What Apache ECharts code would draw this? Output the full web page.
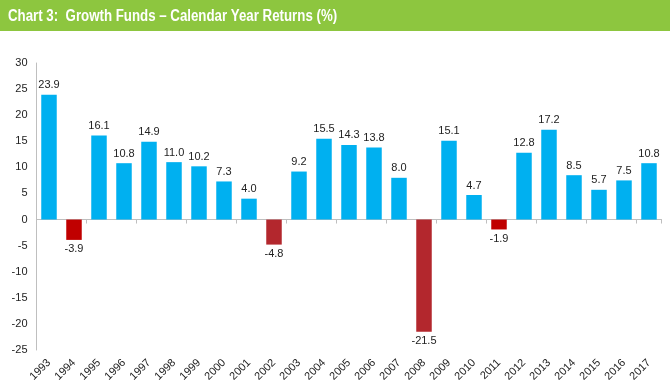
<!DOCTYPE html>
<html><head><meta charset="utf-8">
<script src="https://cdn.jsdelivr.net/npm/echarts@6/dist/echarts.min.js"></script>
<style>html,body{margin:0;padding:0;background:#fff}#c{width:670px;height:390px}</style>
</head><body><div id="c"></div>
<script>
const years = ['1993','1994','1995','1996','1997','1998','1999','2000','2001','2002','2003','2004','2005','2006','2007','2008','2009','2010','2011','2012','2013','2014','2015','2016','2017'];
const returns = [23.9,-3.9,16.1,10.8,14.9,11.0,10.2,7.3,4.0,-4.8,9.2,15.5,14.3,13.8,8.0,-21.5,15.1,4.7,-1.9,12.8,17.2,8.5,5.7,7.5,10.8];
const darkRedYears = ['2002','2008'];
const titleText = 'Chart 3:  Growth Funds \u2013 Calendar Year Returns (%)';

const chart = echarts.init(document.getElementById('c'), null, {renderer:'canvas'});
const grid = {left:36.5, right:8.5, top:63, bottom:40};
chart.setOption({
  animation:false,
  graphic:[
    {type:'rect', shape:{x:0,y:0,width:670,height:31}, style:{fill:'#8dc63f'}, z:10},
    {type:'text', x:8, y:16.5, scaleX:0.83, scaleY:1, originX:0, originY:0, z:11,
     style:{x:0, y:0, text:titleText, fill:'#fff', verticalAlign:'middle', align:'left',
       font:'bold 16px "Liberation Sans", Arial, sans-serif'}}
  ],
  grid: grid,
  xAxis:[
    {type:'category', data:years, axisLine:{onZero:true, lineStyle:{color:'#bfbfbf'}},
     axisTick:{show:true, length:4, alignWithLabel:false, lineStyle:{color:'#bfbfbf'}},
     axisLabel:{show:false}},
    {type:'category', data:years, position:'bottom', axisLine:{show:false}, axisTick:{show:false},
     axisLabel:{rotate:45, margin:11, color:'#222', fontSize:11, fontFamily:'"Liberation Sans", Arial, sans-serif', interval:0}}
  ],
  yAxis:{type:'value', min:-25, max:30, interval:5,
    axisLine:{show:true, lineStyle:{color:'#bfbfbf'}}, axisTick:{show:false}, splitLine:{show:false},
    axisLabel:{color:'#222', fontSize:11, margin:9, fontFamily:'"Liberation Sans", Arial, sans-serif'}},
  series:[{
    type:'bar', barWidth:'62%',
    data: returns.map((v,i)=>({value:v, label:{position: v<0?'bottom':'top'}})),
    itemStyle:{color:function(p){ return p.value>=0 ? '#00b0f0' : (darkRedYears.indexOf(years[p.dataIndex])>=0 ? '#b3272d' : '#c00000'); }},
    label:{show:true, distance:4, color:'#222', fontSize:11, fontFamily:'"Liberation Sans", Arial, sans-serif',
      formatter:function(p){return p.value.toFixed(1);}}
  }]
});
</script></body></html>
